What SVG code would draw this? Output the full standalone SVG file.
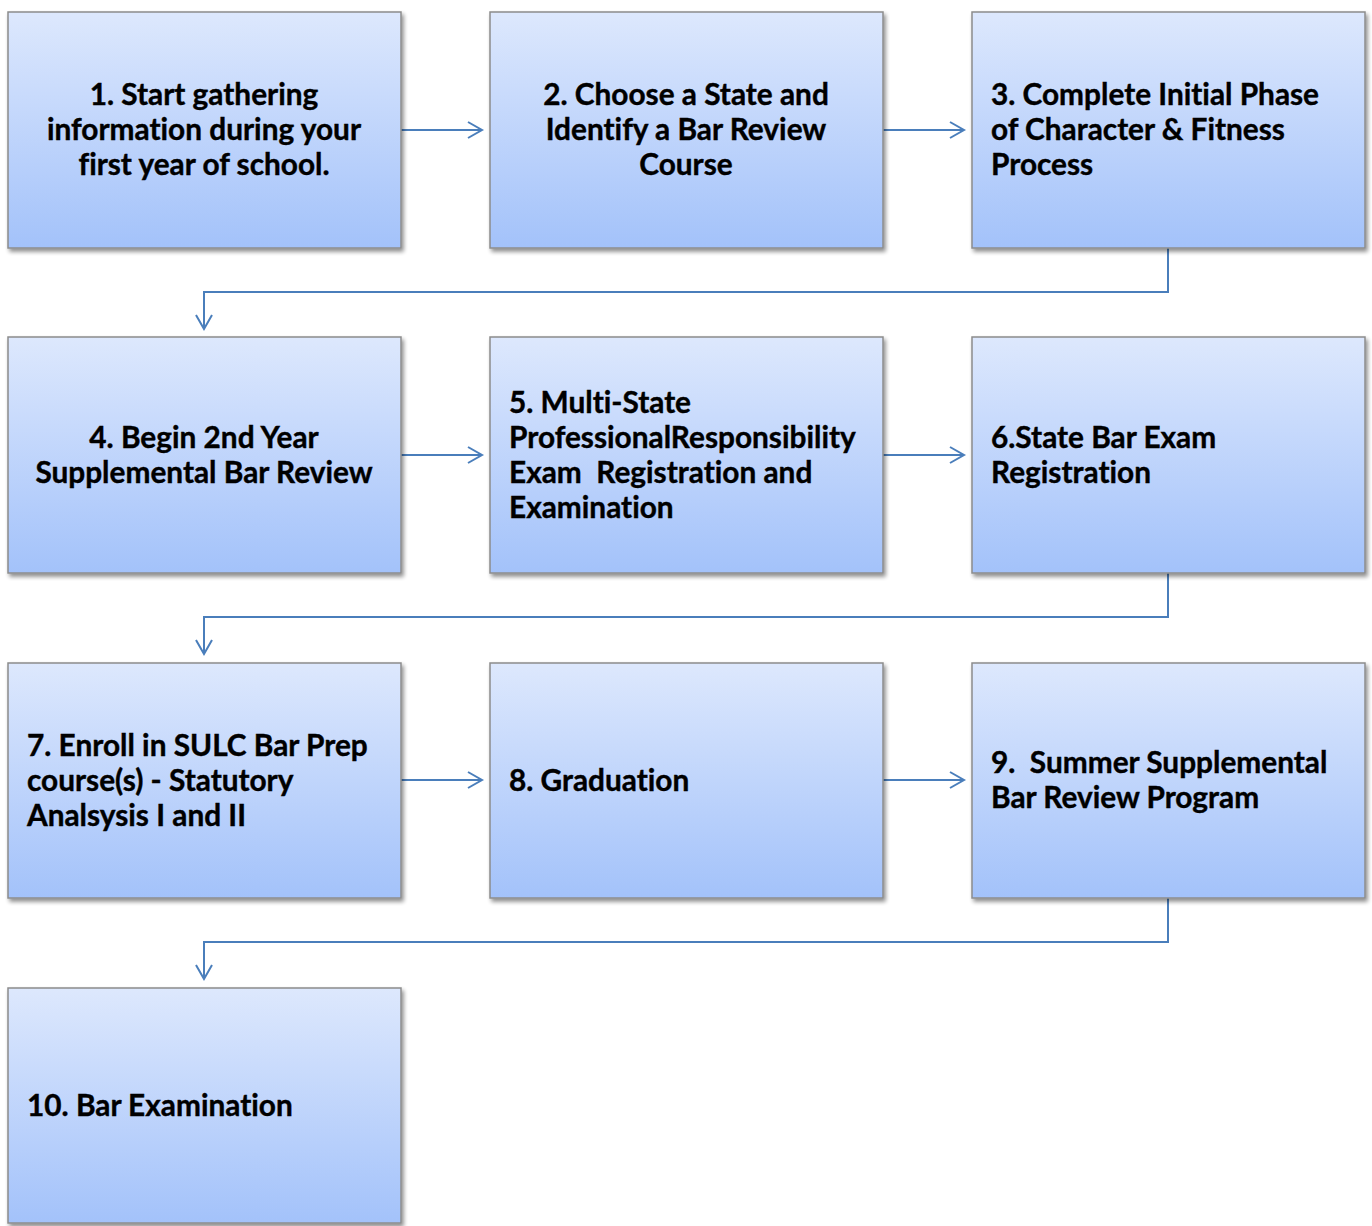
<svg xmlns="http://www.w3.org/2000/svg" width="1372" height="1226" viewBox="0 0 1372 1226">
<defs>
<linearGradient id="g" x1="0" y1="0" x2="0" y2="1">
<stop offset="0" stop-color="#dde8fd"/>
<stop offset="1" stop-color="#a3c2fa"/>
</linearGradient>
<filter id="sh" x="-5%" y="-5%" width="115%" height="115%">
<feGaussianBlur in="SourceAlpha" stdDeviation="2"/>
<feOffset dx="2" dy="3"/>
<feComponentTransfer><feFuncA type="linear" slope="0.45"/></feComponentTransfer>
<feMerge><feMergeNode/><feMergeNode in="SourceGraphic"/></feMerge>
</filter>
<marker id="ah" markerWidth="20" markerHeight="20" refX="16" refY="10" orient="auto" markerUnits="userSpaceOnUse">
<path d="M2,2 L16,10 L2,18" fill="none" stroke="#4a7ebb" stroke-width="2"/>
</marker>
</defs>
<style>
.box{fill:url(#g);stroke:#8c8c8c;stroke-width:1.5;filter:url(#sh)}
.t{font-family:Lato,"Liberation Sans",sans-serif;font-weight:bold;font-size:29.8px;fill:#000;font-variant-ligatures:none;stroke:#000;stroke-width:0.4}
.c{text-anchor:middle}
.cn{fill:none;stroke:#4a7ebb;stroke-width:2;marker-end:url(#ah)}
</style>
<rect width="1372" height="1226" fill="#fff"/>
<g id="connectors">
<path class="cn" d="M401,130 H482"/>
<path class="cn" d="M883,130 H964"/>
<path class="cn" d="M1168,248 V292 H204 V329"/>
<path class="cn" d="M401,455 H482"/>
<path class="cn" d="M883,455 H964"/>
<path class="cn" d="M1168,573 V617 H204 V654"/>
<path class="cn" d="M401,780 H482"/>
<path class="cn" d="M883,780 H964"/>
<path class="cn" d="M1168,898 V942 H204 V979"/>
</g>
<g id="n1"><rect class="box" x="8" y="12" width="393" height="236"/>
<text class="t c" x="204" y="105">1. Start gathering</text><text class="t c" x="204" y="140">information during your</text><text class="t c" x="204" y="175">first year of school.</text></g>
<g id="n2"><rect class="box" x="490" y="12" width="393" height="236"/>
<text class="t c" x="686" y="105">2. Choose a State and</text><text class="t c" x="686" y="140">Identify a Bar Review</text><text class="t c" x="686" y="175">Course</text></g>
<g id="n3"><rect class="box" x="972" y="12" width="393" height="236"/>
<text class="t" x="991" y="105">3. Complete Initial Phase</text><text class="t" x="991" y="140">of Character &amp; Fitness</text><text class="t" x="991" y="175">Process</text></g>
<g id="n4"><rect class="box" x="8" y="337" width="393" height="236"/>
<text class="t c" x="204" y="448">4. Begin 2nd Year</text><text class="t c" x="204" y="483">Supplemental Bar Review</text></g>
<g id="n5"><rect class="box" x="490" y="337" width="393" height="236"/>
<text class="t" x="509" y="413">5. Multi-State</text><text class="t" x="509" y="448">ProfessionalResponsibility</text><text class="t" x="509" y="483" xml:space="preserve">Exam  Registration and</text><text class="t" x="509" y="518">Examination</text></g>
<g id="n6"><rect class="box" x="972" y="337" width="393" height="236"/>
<text class="t" x="991" y="448">6.State Bar Exam</text><text class="t" x="991" y="483">Registration</text></g>
<g id="n7"><rect class="box" x="8" y="663" width="393" height="235"/>
<text class="t" x="27" y="756">7. Enroll in SULC Bar Prep</text><text class="t" x="27" y="791">course(s) - Statutory</text><text class="t" x="27" y="826">Analsysis I and II</text></g>
<g id="n8"><rect class="box" x="490" y="663" width="393" height="235"/>
<text class="t" x="509" y="791">8. Graduation</text></g>
<g id="n9"><rect class="box" x="972" y="663" width="393" height="235"/>
<text class="t" x="991" y="773" xml:space="preserve">9.  Summer Supplemental</text><text class="t" x="991" y="808">Bar Review Program</text></g>
<g id="n10"><rect class="box" x="8" y="988" width="393" height="235"/>
<text class="t" x="27" y="1116">10. Bar Examination</text></g>
</svg>
